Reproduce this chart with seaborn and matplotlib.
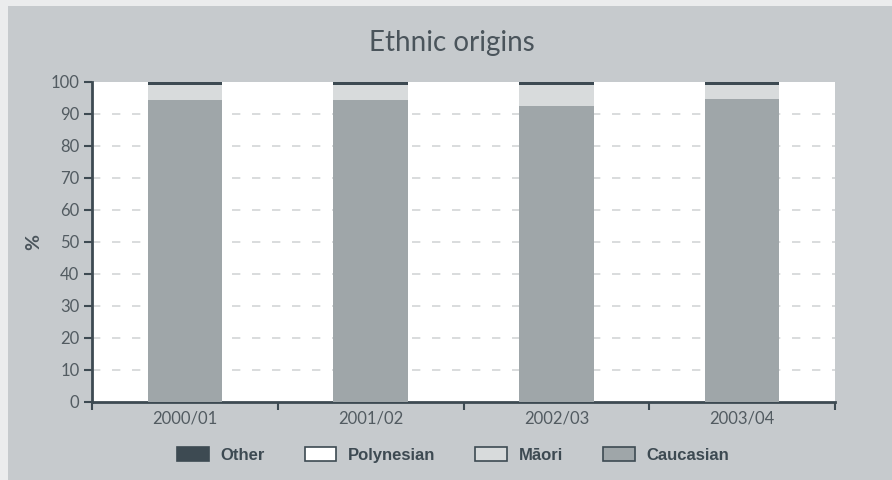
import matplotlib
matplotlib.use("Agg")
import matplotlib.pyplot as plt
import seaborn as sns
import pandas as pd
import numpy as np
from matplotlib.patches import Rectangle, Patch
from matplotlib.ticker import FixedLocator

years = ["2000/01", "2001/02", "2002/03", "2003/04"]
caucasian = [94.4, 94.4, 92.5, 94.7]
maori = [4.6, 4.6, 6.5, 4.3]
polynesian = [0.0, 0.0, 0.0, 0.0]
other = [1.0, 1.0, 1.0, 1.0]
series_names = ["Other", "Polynesian", "M\u0101ori", "Caucasian"]
colors = {"Other": "#3d4a52", "Polynesian": "#ffffff", "M\u0101ori": "#d8dbdc", "Caucasian": "#9fa6a9"}

sns.set_style("white")
plt.rcParams['font.family'] = ['Lato', 'DejaVu Sans']

text_col = "#4a545b"
tick_col = "#525b61"
dark = "#3d4a52"
bg = "#c6cacd"

fig = plt.figure(figsize=(8.92, 4.80), dpi=100)
fig.patch.set_facecolor("#ebeced")
fig.add_artist(Rectangle((8 / 892, 0), 1, 1 - 6 / 480, transform=fig.transFigure,
                         facecolor=bg, edgecolor="none", zorder=0))
ax = fig.add_axes([92 / 892, 78 / 480, 743 / 892, 320 / 480])
ax.set_facecolor("white")

df = pd.DataFrame({"year": years, "Caucasian": caucasian, "M\u0101ori": maori,
                   "Polynesian": polynesian, "Other": other})
c1 = df["Caucasian"]
c2 = c1 + df["M\u0101ori"]
c3 = c2 + df["Polynesian"]
c4 = c3 + df["Other"]
for name, vals in [("Other", c4), ("Polynesian", c3), ("M\u0101ori", c2), ("Caucasian", c1)]:
    sns.barplot(x=df["year"], y=vals, color=colors[name], width=0.4, ax=ax,
                saturation=1, linewidth=0, zorder=3)

ax.set_xlim(-0.5, 3.5)
ax.set_ylim(0, 100)
ax.set_yticks(np.arange(0, 101, 10))
for y in range(10, 100, 10):
    ax.axhline(y, color="#d3d5d7", lw=1.2, dashes=(5, 7), zorder=1)

ax.xaxis.set_major_locator(FixedLocator([-0.5, 0.5, 1.5, 2.5, 3.5]))
ax.xaxis.set_minor_locator(FixedLocator([0, 1, 2, 3]))
ax.set_xticklabels([], minor=False)
ax.set_xticklabels(years, minor=True)
ax.tick_params(axis="x", which="major", length=6, width=1.5, color=dark, direction="out", bottom=True)
ax.tick_params(axis="x", which="minor", length=0, labelsize=12, labelcolor=tick_col, pad=6, bottom=True)
ax.tick_params(axis="y", length=6, width=1.5, color=dark, direction="out", labelsize=12,
               labelcolor=tick_col, pad=3, left=True)

for s in ["top", "right"]:
    ax.spines[s].set_visible(False)
for s in ["left", "bottom"]:
    ax.spines[s].set_color(dark)
    ax.spines[s].set_linewidth(2)

ax.set_xlabel("")
ax.set_ylabel("%", fontsize=14, fontweight="bold", color=text_col, labelpad=6)
fig.text(452 / 892, 1 - 43 / 480, "Ethnic origins", ha="center", va="center",
         fontsize=20, color=text_col, fontweight="normal")

handles = [Patch(facecolor=colors[n], edgecolor=dark, linewidth=1.2, label=n) for n in series_names]
leg = fig.legend(handles=handles, loc="center", bbox_to_anchor=(453 / 892, 1 - 455 / 480),
                 ncol=4, frameon=False, handlelength=1.9, handleheight=0.95, columnspacing=2.4,
                 handletextpad=0.7,
                 prop={"size": 12, "weight": "bold", "family": ["Liberation Sans", "DejaVu Sans"]})
for t in leg.get_texts():
    t.set_color(dark)

fig.savefig("out.png", dpi=100, facecolor=fig.get_facecolor())
